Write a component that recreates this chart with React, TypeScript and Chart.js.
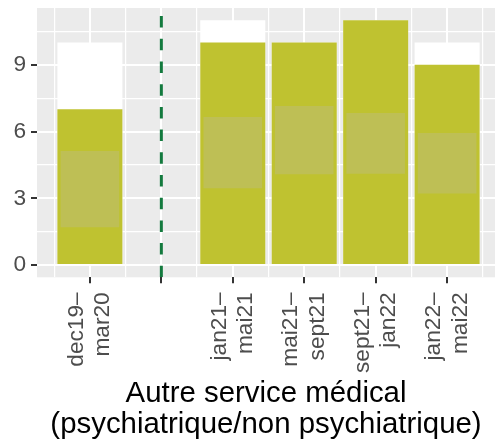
import React, { useEffect, useRef } from 'react';
import { Chart, registerables } from 'chart.js';

Chart.register(...registerables);

// ---- data ----
const categories = ['dec19–\nmar20', '', 'jan21–\nmai21', 'mai21–\nsept21', 'sept21–\njan22', 'jan22–\nmai22'];
const totalValues = [10, null, 11, 10, 11, 10];
const shownValues = [7, null, 10, 10, 11, 9];
const rangeLow = [1.7, null, 3.45, 4.08, 4.1, 3.22];
const rangeHigh = [5.12, null, 6.65, 7.15, 6.83, 5.93];
const separatorCategory = 2;
const yLabelStep = 3;
const xTitle = ['Autre service médical', '(psychiatrique/non psychiatrique)'];

const FONT = "'Liberation Sans', Arial, Helvetica, sans-serif";
const yDataMax = 11;
const yMin = -0.05 * yDataMax;
const yMax = yDataMax * 1.05;

const panelBg = {
  id: 'panelBg',
  beforeDraw(chart: any) {
    const { ctx, chartArea: a } = chart;
    ctx.save();
    ctx.fillStyle = '#EBEBEB';
    ctx.fillRect(a.left, a.top, a.right - a.left, a.bottom - a.top);
    ctx.restore();
  },
};

const isMultiple = (v: number, m: number) => Math.abs(v / m - Math.round(v / m)) < 1e-6;

export default function App() {
  const ref = useRef<HTMLCanvasElement>(null);
  useEffect(() => {
    document.body.style.margin = '0';
    const xs = categories.map((_, i) => i + 1);
    const pts = (vals: (number | null)[]) =>
      xs.map((x, i) => ({ x, y: vals[i] })).filter((d) => d.y != null);
    const rangePts = xs
      .map((x, i) => ({ x, y: rangeLow[i] == null ? null : [rangeLow[i], rangeHigh[i]] }))
      .filter((d) => d.y != null);
    const xMin = 0.26;
    const xMax = categories.length + 0.67;
    const zeroPad = (s: any) => {
      s.paddingTop = 0;
      s.paddingBottom = 0;
      s.paddingLeft = 0;
      s.paddingRight = 0;
    };
    const chart = new Chart(ref.current as HTMLCanvasElement, {
      type: 'bar',
      data: {
        datasets: [
          {
            type: 'bar',
            data: pts(totalValues) as any,
            backgroundColor: '#FFFFFF',
            barPercentage: 0.91,
            categoryPercentage: 1,
            grouped: false,
            order: 4,
          },
          {
            type: 'bar',
            data: pts(shownValues) as any,
            backgroundColor: '#BFC230',
            barPercentage: 0.91,
            categoryPercentage: 1,
            grouped: false,
            order: 3,
          },
          {
            type: 'bar',
            data: rangePts as any,
            backgroundColor: '#BEBF55',
            barPercentage: 0.82,
            categoryPercentage: 1,
            grouped: false,
            order: 2,
          },
          {
            type: 'line',
            data: [
              { x: separatorCategory, y: yMin },
              { x: separatorCategory, y: yMax },
            ] as any,
            borderColor: '#137A3E',
            borderWidth: 3,
            borderDash: [11.5, 11.2],
            pointRadius: 0,
            order: 1,
          } as any,
        ],
      },
      options: {
        responsive: false,
        animation: false,
        layout: { padding: { top: 8, left: 8.4, right: 0, bottom: 0 } },
        plugins: { legend: { display: false }, tooltip: { enabled: false } },
        scales: {
          x: {
            type: 'linear',
            position: 'bottom',
            min: xMin,
            max: xMax,
            offset: false,
            afterFit: zeroPad,
            border: { display: false },
            grid: {
              offset: false,
              color: '#FFFFFF',
              lineWidth: 2,
              drawTicks: true,
              tickLength: 6,
              tickColor: '#333333',
              tickWidth: 2,
            },
            ticks: {
              stepSize: 1,
              includeBounds: false,
              autoSkip: false,
              maxTicksLimit: 50,
              minRotation: 90,
              maxRotation: 90,
              padding: 9,
              labelOffset: -13.35,
              color: '#4D4D4D',
              font: { family: FONT, size: 22.7, lineHeight: 1.176 },
              callback: (v: any) => {
                const i = Math.round(Number(v)) - 1;
                const c = categories[i];
                return c ? c.split('\n') : '';
              },
            },
            title: {
              display: true,
              text: xTitle,
              color: '#000000',
              font: { family: FONT, size: 29.4, lineHeight: 1.054 },
              padding: { top: -4, bottom: 6 },
            },
          } as any,
          x2: {
            type: 'linear',
            position: 'bottom',
            min: xMin,
            max: xMax,
            offset: false,
            afterFit: zeroPad,
            afterBuildTicks: (axis: any) => {
              axis.ticks = categories.map((_, i) => ({ value: i + 0.5 })).concat([{ value: categories.length + 0.5 }]);
            },
            border: { display: false },
            grid: { offset: false, color: '#FFFFFF', lineWidth: 1.2, drawTicks: false },
            ticks: { display: false },
          } as any,
          y: {
            type: 'linear',
            min: yMin,
            max: yMax,
            afterFit: zeroPad,
            border: { display: false },
            grid: {
              color: '#FFFFFF',
              lineWidth: (ctx: any) => (isMultiple(ctx.tick.value, yLabelStep) ? 2 : 1.2),
              drawTicks: true,
              tickLength: 6,
              tickWidth: 2,
              tickColor: (ctx: any) => (isMultiple(ctx.tick.value, yLabelStep) ? '#333333' : 'rgba(0,0,0,0)'),
            },
            ticks: {
              stepSize: yLabelStep / 2,
              includeBounds: false,
              maxTicksLimit: 50,
              padding: 5,
              color: '#4D4D4D',
              font: { family: FONT, size: 22.7, lineHeight: 1.2 },
              callback: (v: any) => (isMultiple(Number(v), yLabelStep) ? String(Math.round(Number(v))) : ''),
            },
          } as any,
        },
      },
      plugins: [panelBg],
    });
    return () => chart.destroy();
  }, []);
  return (
    <div style={{ width: 495, height: 446 }}>
      <canvas ref={ref} width={495} height={446} style={{ display: 'block', width: 495, height: 446 }} />
    </div>
  );
}
